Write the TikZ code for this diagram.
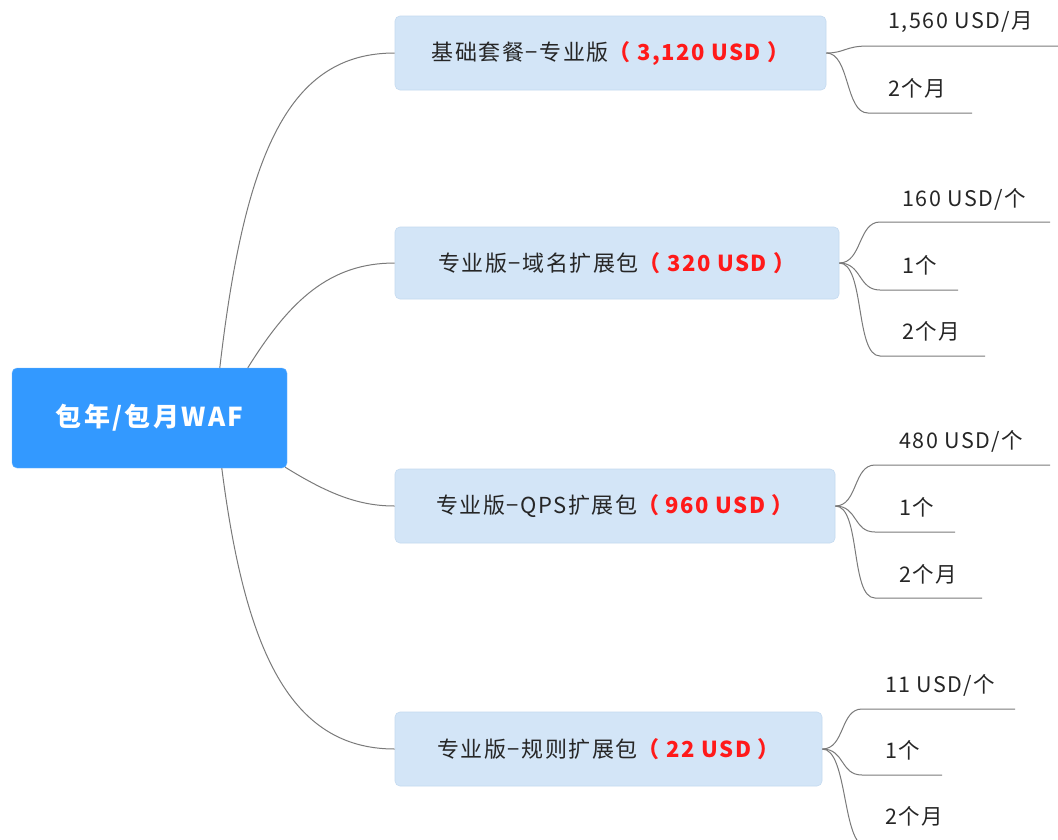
\documentclass[tikz,border=0pt]{standalone}
\usepackage{fontspec}
\setmainfont{Noto Sans CJK SC}
\newfontfamily\widefont{Noto Sans CJK SC}[LetterSpace=7]
\newfontfamily\rootfont{Noto Sans CJK SC}[LetterSpace=9]
\usetikzlibrary{calc}
\definecolor{rootblue}{HTML}{3399FF}
\definecolor{boxblue}{HTML}{D3E5F7}
\definecolor{boxedge}{HTML}{C4DAF0}
\definecolor{linegray}{HTML}{7A7A7A}
\definecolor{pricered}{HTML}{FF1A1A}
\definecolor{inktext}{HTML}{262626}
\tikzset{
  rootbox/.style={fill=rootblue, draw=rootblue!70!white, rounded corners=5pt, minimum width=275pt, minimum height=100pt, inner sep=0pt, text=white, font=\rootfont\fontsize{26}{30}\selectfont\bfseries},
  branchbox/.style={fill=boxblue, draw=boxedge, line width=0.6pt, rounded corners=5pt, minimum height=74pt, inner sep=0pt, text=inktext, font=\widefont\fontsize{22}{26}\selectfont},
  leaftext/.style={anchor=west, inner sep=0pt, font=\widefont\fontsize{21.5}{26}\selectfont, text=inktext},
  conn/.style={draw=linegray, line width=1pt}
}
\newcommand{\pricetag}[1]{\textcolor{pricered}{\bfseries （ #1 ）}}
\begin{document}
\begin{tikzpicture}[x=1pt,y=-1pt]
\useasboundingbox (0,0) rectangle (1058,839);
\fill[white] (0,0) rectangle (1058,839);

% root
\node[rootbox] (root) at (149.5,418) {包年/包月WAF};

% branch boxes
\node[branchbox, minimum width=431pt] (b1) at (610.5,53) {基础套餐−专业版\pricetag{3,120 USD}};
\node[branchbox, minimum width=444pt, minimum height=72pt] (b2) at (617,263) {专业版−域名扩展包\pricetag{320 USD}};
\node[branchbox, minimum width=440pt] (b3) at (615,506) {专业版−QPS扩展包\pricetag{960 USD}};
\node[branchbox, minimum width=427pt] (b4) at (608.5,749) {专业版−规则扩展包\pricetag{22 USD}};

% root connectors
\coordinate (r1) at ($(root.north west)+(208,0)$);
\coordinate (r2) at ($(root.north west)+(236,0)$);
\coordinate (r3) at ($(root.south east)+(-2,-1)$);
\coordinate (r4) at ($(root.south west)+(210,0)$);
\draw[conn] (r1) .. controls (245,150) and (290,53) .. (b1.west);
\draw[conn] (r2) .. controls (290,300) and (330,263) .. (b2.west);
\draw[conn] (r3) .. controls (330,495) and (360,506) .. (b3.west);
\draw[conn] (r4) .. controls (245,650) and (290,749) .. (b4.west);

% branch 1 leaves
\node[leaftext] (t11) at (888,22) {1,560 USD/月};
\node[leaftext] (t12) at (888,88) {2个月};
\coordinate (s11) at (868,46); \coordinate (e11) at (1058,46);
\coordinate (s12) at (868,113); \coordinate (e12) at (972,113);
\draw[conn] (b1.east) .. controls (845,53) and (845,46) .. (s11) -- (e11);
\draw[conn] (b1.east) .. controls (850,53) and (845,113) .. (s12) -- (e12);

% branch 2 leaves
\node[leaftext] (t21) at (902,199) {160 USD/个};
\node[leaftext] (t22) at (902,265) {1个};
\node[leaftext] (t23) at (902,331) {2个月};
\coordinate (s21) at (880,222); \coordinate (e21) at (1050,222);
\coordinate (s22) at (880,290); \coordinate (e22) at (958,290);
\coordinate (s23) at (880,356); \coordinate (e23) at (985,356);
\draw[conn] (b2.east) .. controls (862,263) and (858,222) .. (s21) -- (e21);
\draw[conn] (b2.east) .. controls (862,263) and (858,290) .. (s22) -- (e22);
\draw[conn] (b2.east) .. controls (865,263) and (855,356) .. (s23) -- (e23);

% branch 3 leaves
\node[leaftext] (t31) at (899,441) {480 USD/个};
\node[leaftext] (t32) at (899,507) {1个};
\node[leaftext] (t33) at (899,574) {2个月};
\coordinate (s31) at (875,465); \coordinate (e31) at (1050,465);
\coordinate (s32) at (875,532); \coordinate (e32) at (955,532);
\coordinate (s33) at (875,598); \coordinate (e33) at (982,598);
\draw[conn] (b3.east) .. controls (858,506) and (853,465) .. (s31) -- (e31);
\draw[conn] (b3.east) .. controls (858,506) and (853,532) .. (s32) -- (e32);
\draw[conn] (b3.east) .. controls (861,506) and (850,598) .. (s33) -- (e33);

% branch 4 leaves
\node[leaftext] (t41) at (885,685) {11 USD/个};
\node[leaftext] (t42) at (885,750) {1个};
\node[leaftext] (t43) at (885,816) {2个月};
\coordinate (s41) at (862,709); \coordinate (e41) at (1015,709);
\coordinate (s42) at (862,775); \coordinate (e42) at (942,775);
\coordinate (s43) at (866,846); \coordinate (e43) at (960,846);
\draw[conn] (b4.east) .. controls (845,749) and (840,709) .. (s41) -- (e41);
\draw[conn] (b4.east) .. controls (845,749) and (840,775) .. (s42) -- (e42);
\begin{scope}
\clip (0,0) rectangle (1058,839);
\draw[conn] (b4.east) .. controls (848,749) and (842,846) .. (s43) -- (e43);
\end{scope}
\end{tikzpicture}
\end{document}
